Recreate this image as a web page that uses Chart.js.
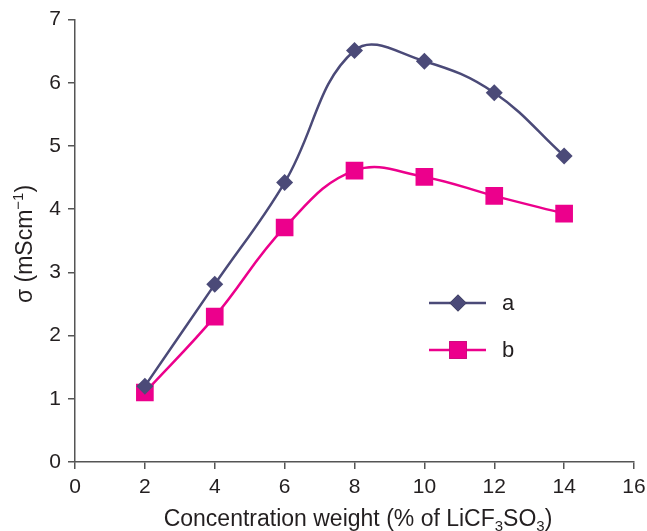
<!DOCTYPE html>
<html lang="en">
<head>
  <meta charset="UTF-8" />
  <title>Conductivity vs concentration</title>
  <script src="https://cdn.jsdelivr.net/npm/chart.js"></script>
  <style>
    html, body { margin: 0; padding: 0; background: #fff; }
    #wrap { width: 647px; height: 531px; }
  </style>
</head>
<body>
<div id="wrap"><canvas id="chart" width="647" height="531"></canvas></div>
<script>
  // data
  const concentration = [2, 4, 6, 8, 10, 12, 14];
  const seriesA = [1.2, 2.81, 4.42, 6.51, 6.34, 5.84, 4.84];
  const seriesB = [1.1, 2.3, 3.71, 4.61, 4.51, 4.21, 3.93];
  const xTicks = [0, 2, 4, 6, 8, 10, 12, 14, 16];
  const yTicks = [0, 1, 2, 3, 4, 5, 6, 7];

  const colA = '#4b4a78';
  const colB = '#ec008c';
  const axisCol = '#555';
  const textCol = '#231f20';
  const font = '"Liberation Sans", Arial, sans-serif';

  const toPts = (xs, ys) => xs.map((x, i) => ({ x: x, y: ys[i] }));

  // titles with sub/superscripts + inline legend
  const extras = {
    id: 'extras',
    afterDraw(chart) {
      const ctx = chart.ctx;
      ctx.save();
      ctx.fillStyle = textCol;

      // x title
      const big = '23px ' + font, small = '15px ' + font;
      const parts = [
        ['Concentration weight (% of LiCF', big, 0],
        ['3', small, 5],
        ['SO', big, 0],
        ['3', small, 5],
        [')', big, 0]
      ];
      let total = 0;
      parts.forEach(p => { ctx.font = p[1]; total += ctx.measureText(p[0]).width; });
      let x = 358 - total / 2;
      ctx.textBaseline = 'alphabetic';
      ctx.textAlign = 'left';
      parts.forEach(p => {
        ctx.font = p[1];
        ctx.fillText(p[0], x, 526 + p[2]);
        x += ctx.measureText(p[0]).width;
      });

      // y title (rotated)
      const yparts = [
        ['σ (mScm', big, 0],
        ['−1', small, -9],
        [')', big, 0]
      ];
      total = 0;
      yparts.forEach(p => { ctx.font = p[1]; total += ctx.measureText(p[0]).width; });
      ctx.translate(32, 244);
      ctx.rotate(-Math.PI / 2);
      x = -total / 2;
      yparts.forEach(p => {
        ctx.font = p[1];
        ctx.fillText(p[0], x, p[2]);
        x += ctx.measureText(p[0]).width;
      });
      ctx.restore();

      // legend
      ctx.save();
      const rows = [
        { ds: chart.data.datasets[0], y: 303 },
        { ds: chart.data.datasets[1], y: 350 }
      ];
      rows.forEach(r => {
        ctx.strokeStyle = r.ds.borderColor;
        ctx.lineWidth = r.ds.borderWidth;
        ctx.beginPath();
        ctx.moveTo(429, r.y);
        ctx.lineTo(486, r.y);
        ctx.stroke();
        Chart.helpers.drawPoint(ctx, {
          pointStyle: r.ds.pointStyle,
          radius: r.ds.pointRadius,
          borderWidth: 0,
          rotation: 0
        }, 458, r.y);
        ctx.fillStyle = r.ds.pointBackgroundColor;
        ctx.fill();
        ctx.fillStyle = textCol;
        ctx.font = '22px ' + font;
        ctx.textBaseline = 'middle';
        ctx.fillText(r.ds.label, 502, r.y + 1);
      });
      ctx.restore();
    }
  };

  new Chart(document.getElementById('chart'), {
    type: 'line',
    data: {
      datasets: [{
        label: 'a',
        data: toPts(concentration, seriesA),
        borderColor: colA,
        borderWidth: 2.5,
        pointStyle: 'rectRot',
        pointRadius: 8.5,
        pointBackgroundColor: colA,
        pointBorderWidth: 0,
        tension: 0.4
      }, {
        label: 'b',
        data: toPts(concentration, seriesB),
        borderColor: colB,
        borderWidth: 2.5,
        pointStyle: 'rect',
        pointRadius: 12.5,
        pointBackgroundColor: colB,
        pointBorderWidth: 0,
        tension: 0.4
      }]
    },
    plugins: [extras],
    options: {
      responsive: false,
      animation: false,
      layout: { padding: { top: 19.5, right: 13, left: 0, bottom: 0 } },
      plugins: { legend: { display: false }, tooltip: { enabled: false } },
      scales: {
        x: {
          type: 'linear',
          min: 0, max: 16,
          afterBuildTicks: axis => { axis.ticks = xTicks.map(v => ({ value: v })); },
          afterFit: axis => { axis.height = 69; axis.paddingLeft = 0; axis.paddingRight = 0; },
          grid: { drawOnChartArea: false, drawTicks: true, tickLength: 7, color: axisCol, lineWidth: 1.5 },
          border: { color: axisCol, width: 1.5 },
          ticks: { color: textCol, font: { family: font, size: 21 }, padding: 6 }
        },
        y: {
          min: 0, max: 7,
          afterBuildTicks: axis => { axis.ticks = yTicks.map(v => ({ value: v })); },
          afterFit: axis => { axis.width = 75; axis.paddingTop = 0; axis.paddingBottom = 0; },
          grid: { drawOnChartArea: false, drawTicks: true, tickLength: 7, color: axisCol, lineWidth: 1.5 },
          border: { color: axisCol, width: 1.5 },
          ticks: { color: textCol, font: { family: font, size: 21 }, padding: 7 }
        }
      }
    }
  });
</script>
</body>
</html>
